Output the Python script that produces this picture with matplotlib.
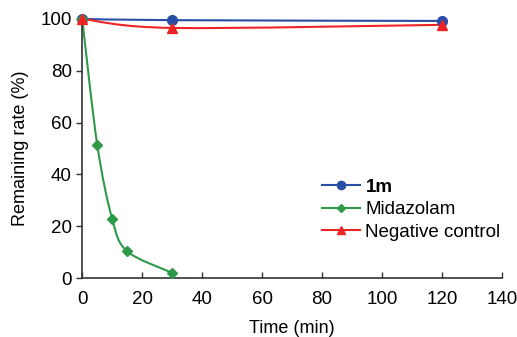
import numpy as np
import matplotlib
matplotlib.use("Agg")
import matplotlib.pyplot as plt
from matplotlib.path import Path
from matplotlib.patches import PathPatch

plt.rcParams['font.family'] = ['Liberation Sans', 'DejaVu Sans']

t_1m = [0, 30, 120]
y_1m = [100, 99.5, 99.2]
t_mid = [0, 5, 10, 15, 30]
y_mid = [100, 51.5, 22.8, 10.3, 2.0]
t_neg = [0, 30, 120]
y_neg = [100, 96.5, 97.7]

c_blue = '#2a4ea6'
c_green = '#2e9a48'
c_red = '#ee2424'


def smooth_path(x, y, k=0.16):
    # catmull-rom style bezier through the points
    x = np.asarray(x, float)
    y = np.asarray(y, float)
    verts = [(x[0], y[0])]
    codes = [Path.MOVETO]
    n = len(x)
    for i in range(n - 1):
        p0 = np.array([x[max(i - 1, 0)], y[max(i - 1, 0)]])
        p1 = np.array([x[i], y[i]])
        p2 = np.array([x[i + 1], y[i + 1]])
        p3 = np.array([x[min(i + 2, n - 1)], y[min(i + 2, n - 1)]])
        c1 = p1 + (p2 - p0) * k
        c2 = p2 - (p3 - p1) * k
        verts += [tuple(c1), tuple(c2), tuple(p2)]
        codes += [Path.CURVE4] * 3
    return Path(verts, codes)


fig = plt.figure(figsize=(5.17, 3.37), dpi=100)
ax = fig.add_axes([0.159, 0.175, 0.812, 0.769])

for t, y, c, m, ms, lab in [(t_1m, y_1m, c_blue, 'o', 7, '1m'),
                            (t_mid, y_mid, c_green, 'D', 5, 'Midazolam'),
                            (t_neg, y_neg, c_red, '^', 7, 'Negative control')]:
    ax.add_patch(PathPatch(smooth_path(t, y), fill=False, edgecolor=c, lw=1.5, clip_on=False))
    ax.plot(t, y, ls='none', marker=m, ms=ms, color=c, clip_on=False, zorder=3)
    ax.plot([], [], color=c, lw=1.5, marker=m, ms=ms - 1, label=lab)

ax.set_xlim(0, 140)
ax.set_ylim(0, 100)
ax.set_xticks(np.arange(0, 141, 20))
ax.set_yticks(np.arange(0, 101, 20))
ax.spines['top'].set_visible(False)
ax.spines['right'].set_visible(False)
for s in ['left', 'bottom']:
    ax.spines[s].set_linewidth(1.2)
    ax.spines[s].set_color('#333333')
ax.tick_params(axis='x', direction='in', length=4, width=1, labelsize=13.5, pad=9, color='#333333')
ax.tick_params(axis='y', direction='out', length=4, width=1, labelsize=13.5, color='#333333')
ax.set_xlabel('Time (min)', fontsize=13, labelpad=9)
ax.set_ylabel('Remaining rate (%)', fontsize=13, labelpad=8)

leg = ax.legend(loc='center left', bbox_to_anchor=(0.572, 0.263), frameon=False,
                fontsize=13.5, handlelength=2.0, labelspacing=0.28, handletextpad=0.3,
                borderpad=0, borderaxespad=0)
leg.get_texts()[0].set_fontweight('bold')

fig.savefig('out.png', dpi=100)
